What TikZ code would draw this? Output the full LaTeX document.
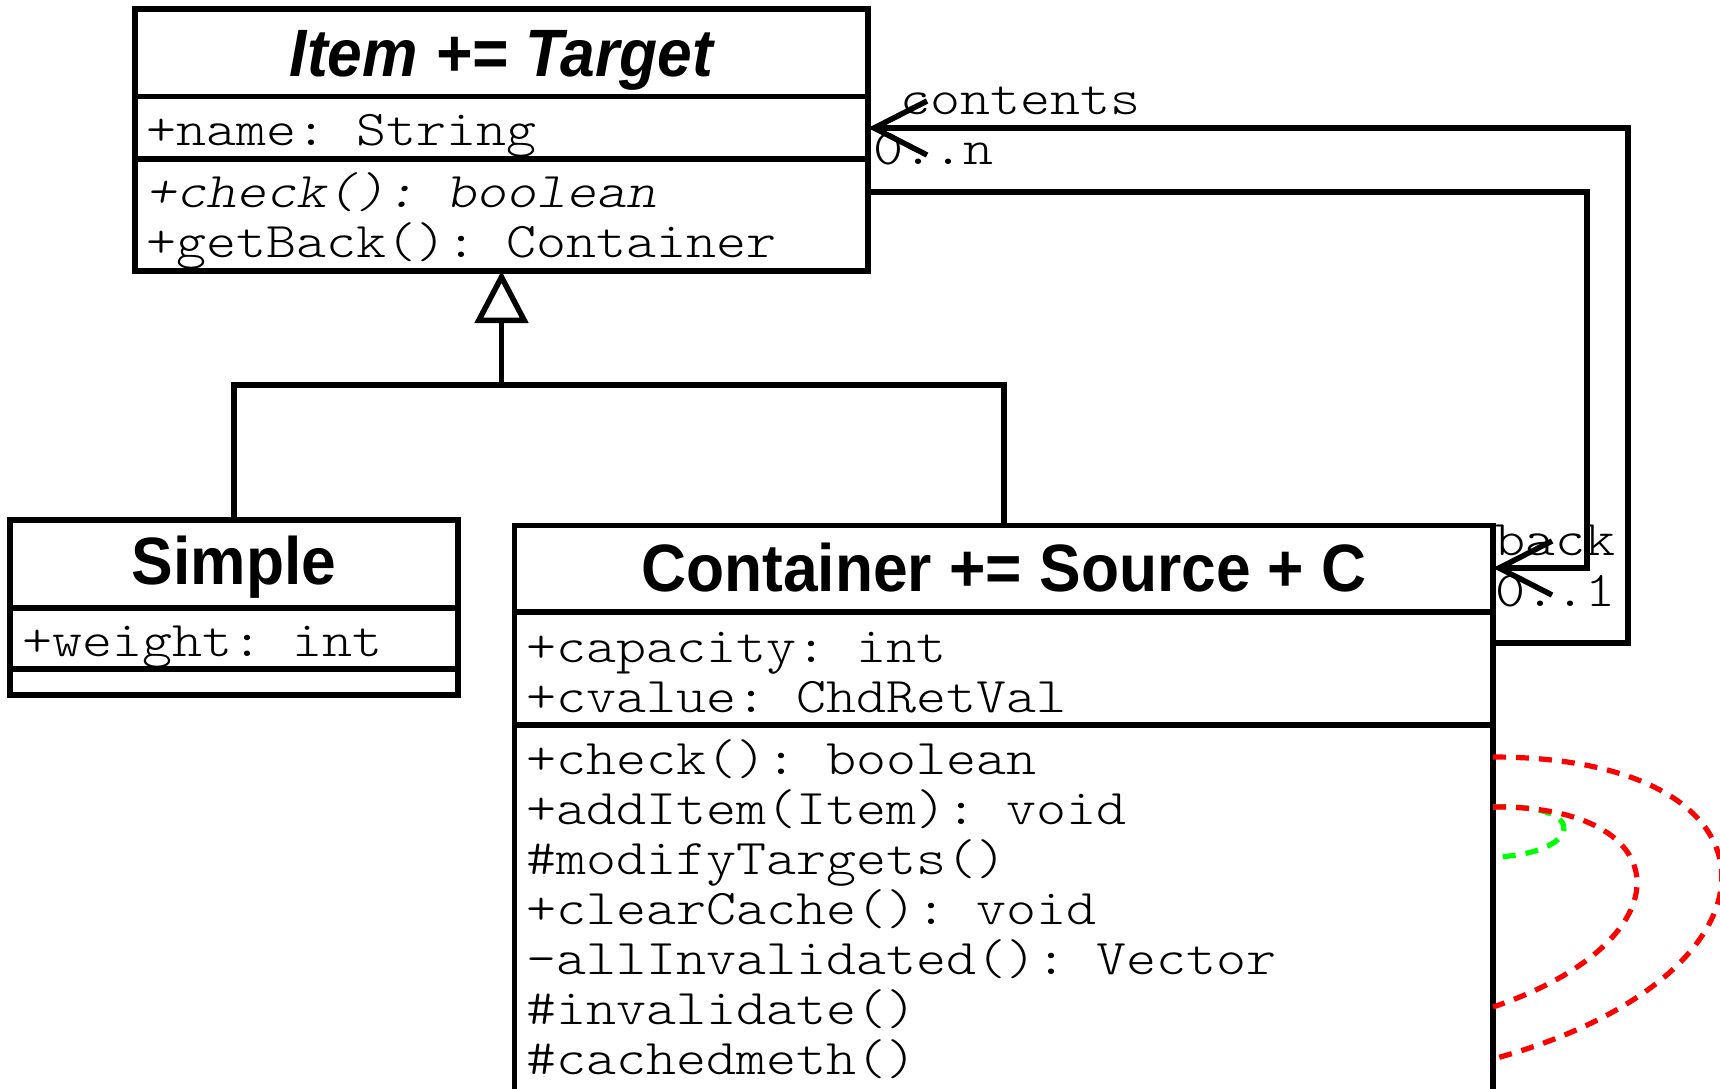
\documentclass[tikz,border=0pt]{standalone}
\usepackage{fontspec}
\usetikzlibrary{arrows.meta}
\newfontfamily\clsfont{Liberation Sans}[FakeStretch=0.93]
\newfontfamily\mono{lmmonolt10-regular.otf}[ItalicFont=lmmonolt10-oblique.otf, FakeStretch=1.143]
\definecolor{depred}{RGB}{255,0,0}
\definecolor{depgreen}{RGB}{0,255,0}
\tikzset{
  box/.style={draw, line width=5.5pt, inner sep=0pt, outer sep=0pt, anchor=north west},
  divider/.style={line width=5.5pt},
  title/.style={font=\clsfont\bfseries\fontsize{67}{67}\selectfont, inner sep=0pt, anchor=base},
  mem/.style={font=\mono\fontsize{50}{50}\selectfont\frenchspacing, inner sep=0pt, anchor=base west},
  conn/.style={line width=5.5pt},
  assoc/.style={conn, -{Straight Barb[length=53pt,width=54pt]}},
  gen/.style={conn, -{Triangle[open,length=52pt,width=53pt,fill=white]}},
  dep/.style={line width=5.2pt, dash pattern=on 13pt off 10pt}
}
\begin{document}
\begin{tikzpicture}[x=1pt,y=-1pt]
\useasboundingbox (0,0) rectangle (1720,1088);
\clip (0,0) rectangle (1720,1088);
\fill[white] (0,0) rectangle (1720,1088);

% boxes
\node[box, minimum width=733pt, minimum height=262pt] (item) at (135,9) {};
\node[box, minimum width=448pt, minimum height=175pt] (simple) at (10,520) {};
\node[box, minimum width=978.5pt, minimum height=570pt] (container) at (514.5,525.5) {};

% dividers
\draw[divider] ([yshift=-87.5pt]item.north west) -- ([yshift=-87.5pt]item.north east);
\draw[divider] ([yshift=-150pt]item.north west) -- ([yshift=-150pt]item.north east);
\draw[divider] ([yshift=-88pt]simple.north west) -- ([yshift=-88pt]simple.north east);
\draw[divider] ([yshift=-149pt]simple.north west) -- ([yshift=-149pt]simple.north east);
\draw[divider] ([yshift=-86.5pt]container.north west) -- ([yshift=-86.5pt]container.north east);
\draw[divider] ([yshift=-199.5pt]container.north west) -- ([yshift=-199.5pt]container.north east);

% titles
\node[title, font=\clsfont\bfseries\itshape\fontsize{67}{67}\selectfont] (itemtitle) at (501.5,76) {Item += Target};
\node[title] (simpletitle) at (234,584) {Simple};
\node[title] (containertitle) at (1004,591) {Container += Source + C};

% members
\node[mem] (m1) at (146,145) {+name: String};
\node[mem] (m2) at (146,207) {\itshape +check(): boolean};
\node[mem] (m3) at (146,257) {+getBack(): Container};
\node[mem] (m4) at (22,656) {+weight: int};
\node[mem] (m5) at (526,662) {+capacity: int};
\node[mem] (m6) at (526,712) {+cvalue: ChdRetVal};
\node[mem] (m7) at (526,774) {+check(): boolean};
\node[mem] (m8) at (526,824) {+addItem(Item): void};
\node[mem] (m9) at (526,874) {\#modifyTargets()};
\node[mem] (m10) at (526,924) {+clearCache(): void};
\node[mem] (m11) at (526,974) {-allInvalidated(): Vector};
\node[mem] (m12) at (526,1024) {\#invalidate()};
\node[mem] (m13) at (526,1074) {\#cachedmeth()};

% generalization
\coordinate (gj) at (501.5,385);
\draw[conn] (simple.north) |- (gj) -| (container.north);
\draw[gen] (gj) -- (item.south);

% associations
\coordinate (cstart) at ([yshift=-117.5pt]container.north east);
\coordinate (ctip) at ([yshift=-119pt]item.north east);
\draw[assoc] (cstart) -- ++(135,0) |- (ctip);
\coordinate (bstart) at ([yshift=-183pt]item.north east);
\coordinate (btip) at ([yshift=-42.5pt]container.north east);
\draw[assoc] (bstart) -- ++(719,0) |- (btip);

\node[mem] (lcontents) at (900,114) {contents};
\node[mem] (lcontentsm) at (873,164) {0..n};
\node[mem] (lback) at (1495,555) {back};
\node[mem] (lbackm) at (1495,606) {0..1};

% dependency curves
\draw[dep, depgreen] ([yshift=-281.5pt]container.north east) .. controls (1595,803) and (1580,855) .. ([yshift=-331.5pt]container.north east);
\draw[dep, depred] ([yshift=-281.5pt]container.north east) .. controls (1680,805) and (1690,940) .. ([yshift=-481.5pt]container.north east);
\draw[dep, depred] ([yshift=-231.5pt]container.north east) .. controls (1798,757) and (1798,976) .. ([yshift=-533.5pt]container.north east);
\end{tikzpicture}
\end{document}
